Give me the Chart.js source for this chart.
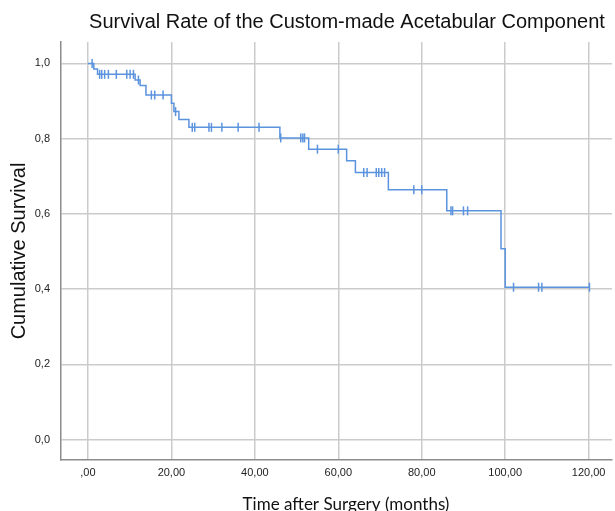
<!DOCTYPE html>
<html>
<head>
<meta charset="utf-8">
<script src="https://cdn.jsdelivr.net/npm/chart.js@4/dist/chart.umd.min.js"></script>
<style>
  html, body { margin: 0; padding: 0; background: #ffffff; overflow: hidden; }
  #wrap { width: 615px; height: 511px; position: relative; overflow: hidden; }
</style>
</head>
<body>
<div id="wrap"><canvas id="km" width="618" height="511"></canvas></div>
<script>
// Kaplan-Meier estimate: time of each drop (months) and survival after it
const eventMonths = [0, 1.4, 2.3, 11.3, 12.5, 13.9, 20.0, 20.6, 21.8, 24.2, 46.0, 52.9, 62.0, 64.1, 72.0, 86.0, 99.0, 100.0, 120.2];
const survival    = [1.0, 0.985, 0.971, 0.956, 0.941, 0.916, 0.894, 0.872, 0.851, 0.830, 0.802, 0.772, 0.741, 0.710, 0.664, 0.608, 0.507, 0.405, 0.405];

// Censored follow-up times (months)
const censorMonths = [1.0, 2.8, 3.3, 4.0, 4.9, 6.8, 9.3, 10.1, 10.9, 12.1, 15.2, 16.0, 18.0, 21.0,
  25.0, 25.6, 29.0, 29.6, 32.1, 36.0, 41.0, 46.2, 51.0, 51.5, 51.9, 55.0, 60.0,
  66.1, 66.9, 69.1, 69.7, 70.4, 71.1, 78.1, 80.0, 87.0, 87.4, 90.0, 91.0, 102.0, 108.0, 108.8, 120.2];

// Axis ticks
const xTickValues = [0, 20, 40, 60, 80, 100, 120];
const xTickLabels = [',00', '20,00', '40,00', '60,00', '80,00', '100,00', '120,00'];
const yTickValues = [0, 0.2, 0.4, 0.6, 0.8, 1.0];
const yTickLabels = ['0,0', '0,2', '0,4', '0,6', '0,8', '1,0'];

const chartTitle = 'Survival Rate of the Custom-made Acetabular Component';
const xTitle = 'Time after Surgery (months)';
const yTitle = 'Cumulative Survival';

// survival level in effect at time t (step function lookup)
function levelAt(t) {
  let s = survival[0];
  for (let i = 0; i < eventMonths.length; i++) {
    if (eventMonths[i] <= t) s = survival[i];
  }
  return s;
}

const curvePoints = eventMonths.map((t, i) => ({ x: t, y: survival[i] }));
const censorPoints = censorMonths.map(t => ({ x: t, y: levelAt(t) }));

const lineBlue = '#5b93de';
const gridGrey = '#cbcbcb';
const axisGrey = '#8c8c8c';
const textColor = '#111111';

// chart heading and axis titles
const titlesPlugin = {
  id: 'titles',
  afterDraw(chart) {
    const ctx = chart.ctx;
    ctx.save();
    ctx.fillStyle = textColor;
    ctx.textAlign = 'center';

    ctx.font = '20px "Liberation Sans", Arial, sans-serif';
    ctx.textBaseline = 'middle';
    ctx.fillText(chartTitle, 347, 22);

    ctx.font = '17px Lato, "Open Sans", sans-serif';
    ctx.textBaseline = 'alphabetic';
    ctx.fillText(xTitle, 346, 510);

    ctx.translate(19, 251);
    ctx.rotate(-Math.PI / 2);
    ctx.font = '20px "Liberation Sans", Arial, sans-serif';
    ctx.textBaseline = 'middle';
    ctx.fillText(yTitle, 0, 0);
    ctx.restore();
  }
};

new Chart(document.getElementById('km'), {
  type: 'scatter',
  data: {
    datasets: [
      {
        label: 'Survival',
        data: curvePoints,
        showLine: true,
        stepped: true,
        borderColor: lineBlue,
        borderWidth: 1.5,
        pointRadius: 0,
        pointHoverRadius: 0,
        fill: false
      },
      {
        label: 'Censored',
        data: censorPoints,
        showLine: false,
        pointStyle: 'line',
        rotation: 90,
        pointRadius: 4.5,
        borderColor: lineBlue,
        borderWidth: 1.5
      }
    ]
  },
  options: {
    responsive: false,
    animation: false,
    devicePixelRatio: 1,
    layout: { padding: { top: 42, right: 0, bottom: 0, left: 0 } },
    plugins: {
      legend: { display: false },
      tooltip: { enabled: false },
      title: { display: false }
    },
    scales: {
      x: {
        type: 'linear',
        min: -6.46,
        max: 125.6,
        afterFit(s) { s.height = 51; },
        afterBuildTicks(s) { s.ticks = xTickValues.map(v => ({ value: v })); },
        ticks: {
          padding: 6,
          color: '#222222',
          maxRotation: 0,
          font: { family: '"Liberation Sans", Arial, sans-serif', size: 11 },
          callback(v) { const i = xTickValues.indexOf(v); return i >= 0 ? xTickLabels[i] : ''; }
        },
        grid: { color: gridGrey, lineWidth: 1.5, drawTicks: false },
        border: { color: axisGrey, width: 1.5 }
      },
      y: {
        type: 'linear',
        min: -0.0545,
        max: 1.057,
        afterFit(s) { s.width = 61; },
        afterBuildTicks(s) { s.ticks = yTickValues.map(v => ({ value: v })); },
        ticks: {
          padding: 11,
          color: '#222222',
          font: { family: '"Liberation Sans", Arial, sans-serif', size: 11 },
          callback(v) {
            const i = yTickValues.findIndex(t => Math.abs(t - v) < 1e-9);
            return i >= 0 ? yTickLabels[i] : '';
          }
        },
        grid: { color: gridGrey, lineWidth: 1.5, drawTicks: false },
        border: { color: axisGrey, width: 1.5 }
      }
    }
  },
  plugins: [titlesPlugin]
});
</script>
</body>
</html>
